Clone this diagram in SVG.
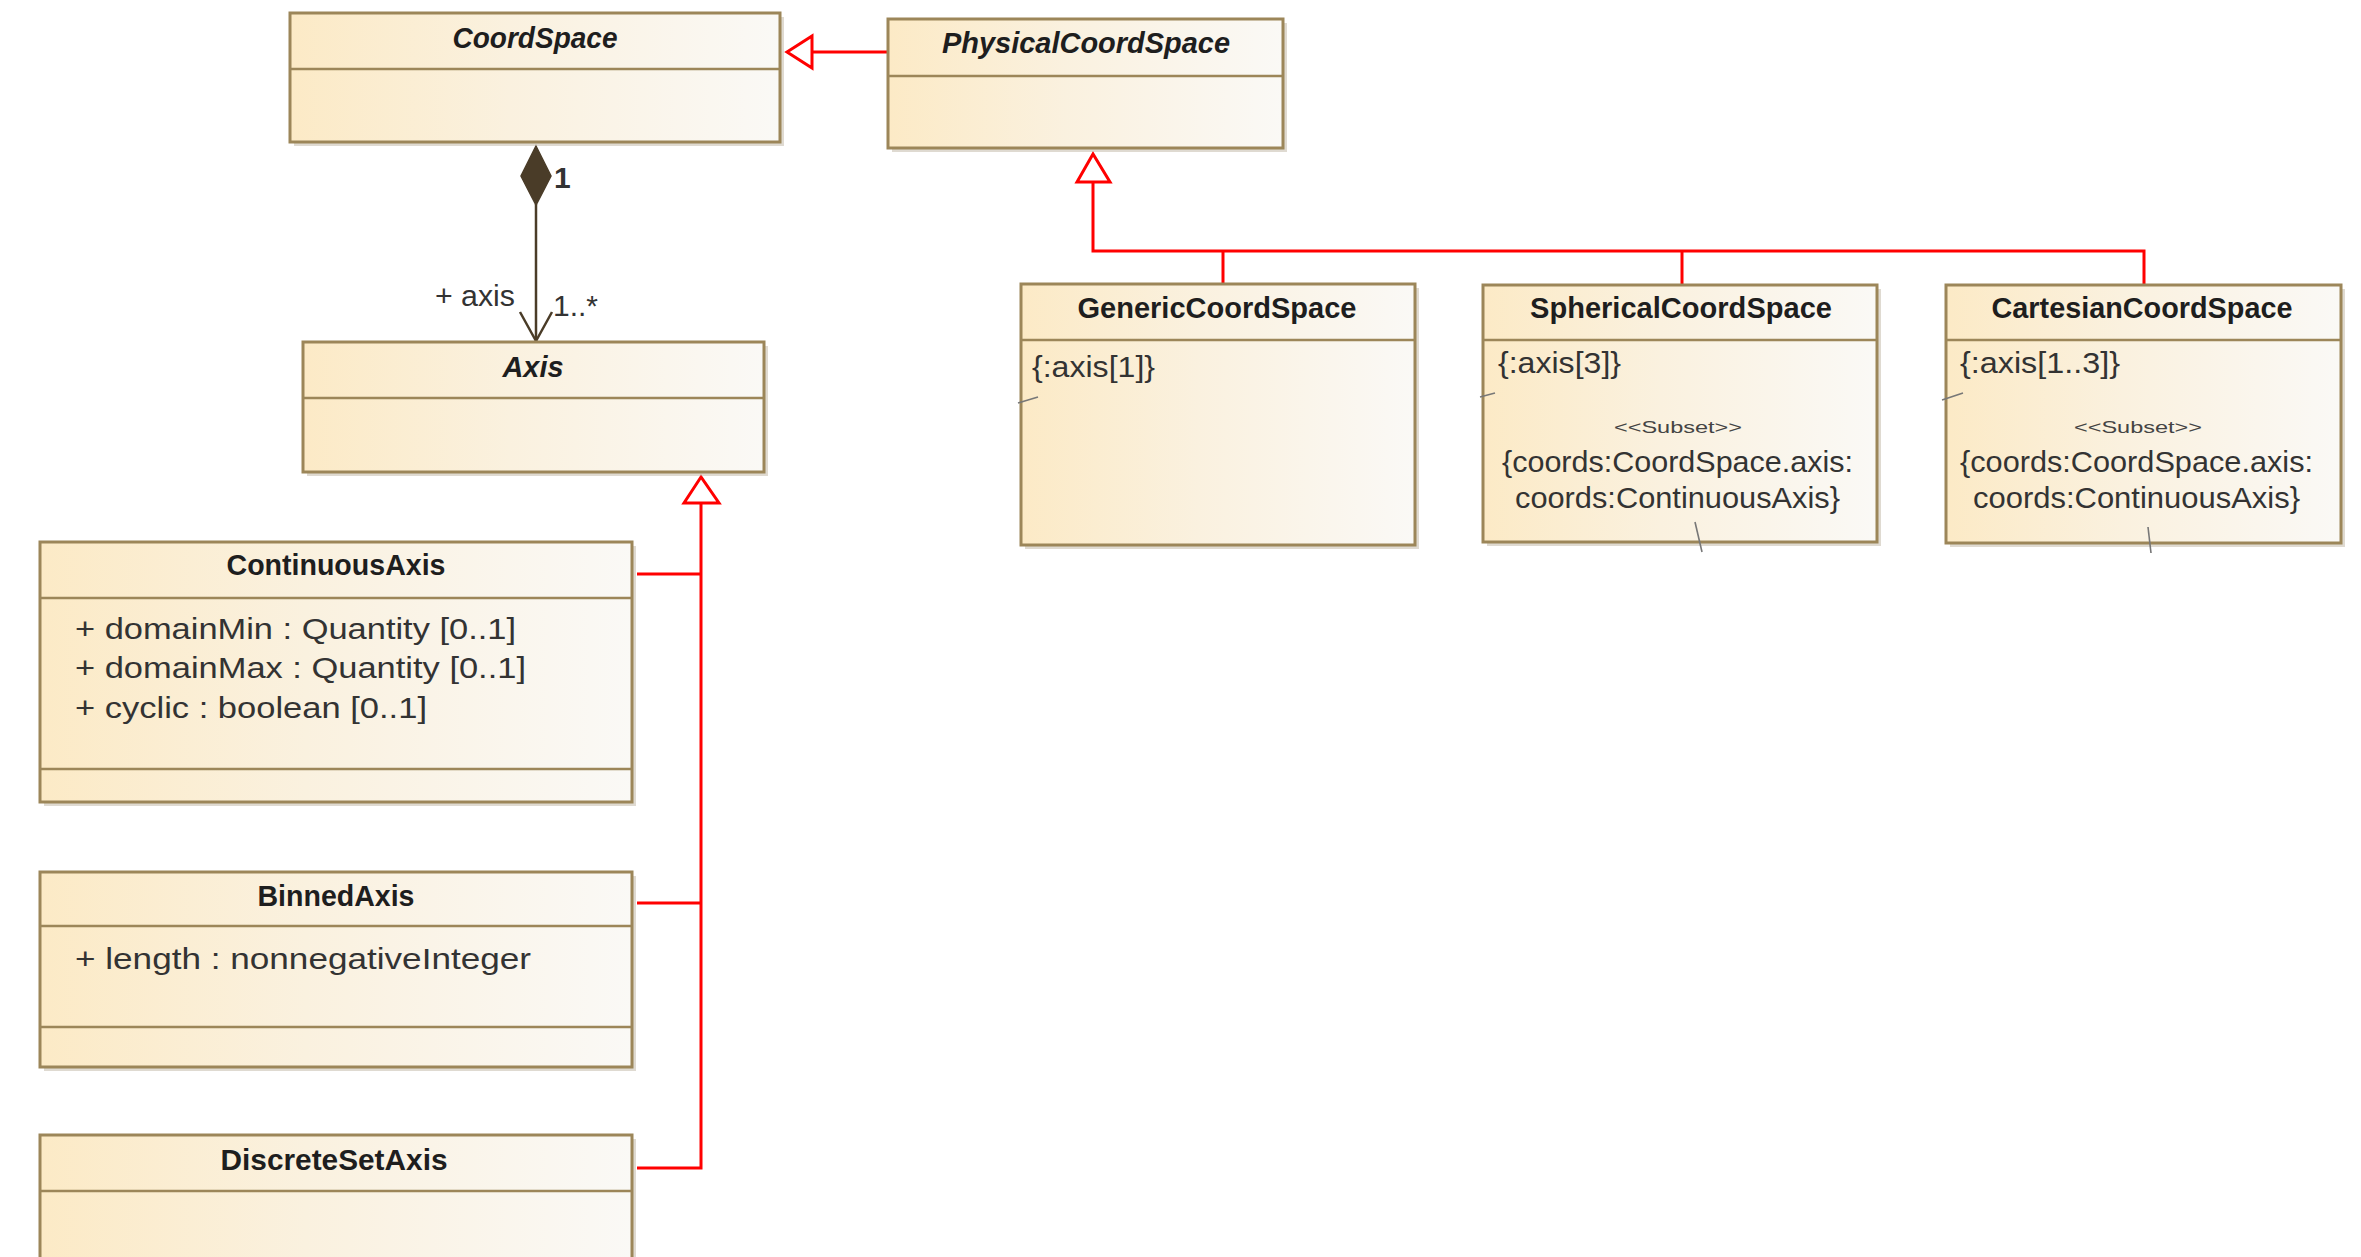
<svg xmlns="http://www.w3.org/2000/svg" width="2361" height="1257" viewBox="0 0 2361 1257">
  <defs>
    <linearGradient id="classFill" x1="0" y1="0" x2="1" y2="0">
      <stop offset="0" stop-color="#FCEAC6"/>
      <stop offset="0.45" stop-color="#FAF1DF"/>
      <stop offset="1" stop-color="#FAF9F6"/>
    </linearGradient>
    <style>
      .shadow { fill: #B8AE98; opacity: 0.45; }
      .box { fill: url(#classFill); stroke: #9C8659; stroke-width: 3; }
      .div { stroke: #9C8659; stroke-width: 2.5; }
      .title { font-family: "Liberation Sans", Arial, sans-serif; font-size: 29px; font-weight: bold; fill: #1E1E1E; text-anchor: middle; }
      .abstract { font-style: italic; }
      .body { font-family: "Liberation Sans", Arial, sans-serif; font-size: 30px; fill: #333333; }
      .small { font-family: "Liberation Sans", Arial, sans-serif; font-size: 17px; fill: #444444; text-anchor: middle; }
      .mid { text-anchor: middle; }
      .gen { fill: none; stroke: #FF0000; stroke-width: 3; }
      .genHead { fill: #FFFFFF; stroke: #FF0000; stroke-width: 3; stroke-linejoin: miter; }
      .assoc { fill: none; stroke: #4A3C28; stroke-width: 2.5; }
      .tick { stroke: #777777; stroke-width: 1.6; fill: none; }
    </style>
  </defs>

  <rect width="2361" height="1257" fill="#FFFFFF"/>

  <!-- connectors -->
  <g id="connectors">
    <!-- PhysicalCoordSpace generalizes CoordSpace -->
    <line class="gen" x1="812" y1="52" x2="888" y2="52"/>
    <polygon class="genHead" points="787,52 812,36 812,68"/>

    <!-- Generic / Spherical / Cartesian generalize PhysicalCoordSpace -->
    <polyline class="gen" points="1093,182 1093,251 2144,251 2144,284"/>
    <line class="gen" x1="1223" y1="251" x2="1223" y2="284"/>
    <line class="gen" x1="1682" y1="251" x2="1682" y2="285"/>
    <polygon class="genHead" points="1093,154 1077,182 1110,182"/>

    <!-- axis subclasses generalize Axis -->
    <polyline class="gen" points="701,503 701,1168 637,1168"/>
    <line class="gen" x1="637" y1="574" x2="701" y2="574"/>
    <line class="gen" x1="637" y1="903" x2="701" y2="903"/>
    <polygon class="genHead" points="701,477 684,503 719,503"/>

    <!-- composition CoordSpace -> Axis -->
    <line class="assoc" x1="536" y1="204" x2="536" y2="341"/>
    <polygon points="536,146 551,176 536,205 521,176" fill="#4A3C28" stroke="#4A3C28" stroke-width="1.5"/>
    <polyline class="assoc" points="520,312 536,341 552,312"/>
    <text class="body" x="554" y="188" font-weight="bold" font-size="27">1</text>
    <text class="body" x="435" y="306" textLength="80" lengthAdjust="spacingAndGlyphs">+ axis</text>
    <text class="body" x="553" y="316" textLength="45" lengthAdjust="spacingAndGlyphs">1..*</text>
  </g>

  <!-- CoordSpace -->
  <g id="CoordSpace">
    <rect class="shadow" x="294" y="17" width="490" height="129"/>
    <rect class="box" x="290" y="13" width="490" height="129"/>
    <line class="div" x1="291" y1="69" x2="779" y2="69"/>
    <text class="title abstract" x="535" y="48" textLength="165" lengthAdjust="spacingAndGlyphs">CoordSpace</text>
  </g>

  <!-- PhysicalCoordSpace -->
  <g id="PhysicalCoordSpace">
    <rect class="shadow" x="892" y="23" width="395" height="129"/>
    <rect class="box" x="888" y="19" width="395" height="129"/>
    <line class="div" x1="889" y1="76" x2="1282" y2="76"/>
    <text class="title abstract" x="1086" y="53" textLength="288" lengthAdjust="spacingAndGlyphs">PhysicalCoordSpace</text>
  </g>

  <!-- Axis -->
  <g id="Axis">
    <rect class="shadow" x="307" y="346" width="461" height="130"/>
    <rect class="box" x="303" y="342" width="461" height="130"/>
    <line class="div" x1="304" y1="398" x2="763" y2="398"/>
    <text class="title abstract" x="533" y="377" textLength="61" lengthAdjust="spacingAndGlyphs">Axis</text>
  </g>

  <!-- GenericCoordSpace -->
  <g id="GenericCoordSpace">
    <rect class="shadow" x="1025" y="288" width="394" height="261"/>
    <rect class="box" x="1021" y="284" width="394" height="261"/>
    <line class="div" x1="1022" y1="340" x2="1414" y2="340"/>
    <text class="title" x="1217" y="318" textLength="279" lengthAdjust="spacingAndGlyphs">GenericCoordSpace</text>
    <text class="body" x="1032" y="377" textLength="123" lengthAdjust="spacingAndGlyphs">{:axis[1]}</text>
    <line class="tick" x1="1018" y1="403" x2="1038" y2="397"/>
  </g>

  <!-- SphericalCoordSpace -->
  <g id="SphericalCoordSpace">
    <rect class="shadow" x="1487" y="289" width="394" height="257"/>
    <rect class="box" x="1483" y="285" width="394" height="257"/>
    <line class="div" x1="1484" y1="340" x2="1876" y2="340"/>
    <text class="title" x="1681" y="318" textLength="302" lengthAdjust="spacingAndGlyphs">SphericalCoordSpace</text>
    <text class="body" x="1498" y="373" textLength="123" lengthAdjust="spacingAndGlyphs">{:axis[3]}</text>
    <text class="small" x="1678" y="433" textLength="128" lengthAdjust="spacingAndGlyphs">&lt;&lt;Subset&gt;&gt;</text>
    <text class="body mid" x="1677.5" y="472" textLength="351" lengthAdjust="spacingAndGlyphs">{coords:CoordSpace.axis:</text>
    <text class="body mid" x="1677.5" y="508" textLength="325" lengthAdjust="spacingAndGlyphs">coords:ContinuousAxis}</text>
    <line class="tick" x1="1480" y1="397" x2="1495" y2="393"/>
    <line class="tick" x1="1695" y1="522" x2="1702" y2="552"/>
  </g>

  <!-- CartesianCoordSpace -->
  <g id="CartesianCoordSpace">
    <rect class="shadow" x="1950" y="289" width="395" height="258"/>
    <rect class="box" x="1946" y="285" width="395" height="258"/>
    <line class="div" x1="1947" y1="340" x2="2340" y2="340"/>
    <text class="title" x="2142" y="318" textLength="301" lengthAdjust="spacingAndGlyphs">CartesianCoordSpace</text>
    <text class="body" x="1960" y="373" textLength="160" lengthAdjust="spacingAndGlyphs">{:axis[1..3]}</text>
    <text class="small" x="2138" y="433" textLength="128" lengthAdjust="spacingAndGlyphs">&lt;&lt;Subset&gt;&gt;</text>
    <text class="body mid" x="2136.5" y="472" textLength="353" lengthAdjust="spacingAndGlyphs">{coords:CoordSpace.axis:</text>
    <text class="body mid" x="2136.5" y="508" textLength="327" lengthAdjust="spacingAndGlyphs">coords:ContinuousAxis}</text>
    <line class="tick" x1="1942" y1="400" x2="1963" y2="393"/>
    <line class="tick" x1="2148" y1="527" x2="2151" y2="553"/>
  </g>

  <!-- ContinuousAxis -->
  <g id="ContinuousAxis">
    <rect class="shadow" x="44" y="546" width="592" height="260"/>
    <rect class="box" x="40" y="542" width="592" height="260"/>
    <line class="div" x1="41" y1="598" x2="631" y2="598"/>
    <line class="div" x1="41" y1="769" x2="631" y2="769"/>
    <text class="title" x="336" y="575" textLength="219" lengthAdjust="spacingAndGlyphs">ContinuousAxis</text>
    <text class="body" x="75" y="639" textLength="441" lengthAdjust="spacingAndGlyphs">+ domainMin : Quantity [0..1]</text>
    <text class="body" x="75" y="678" textLength="451" lengthAdjust="spacingAndGlyphs">+ domainMax : Quantity [0..1]</text>
    <text class="body" x="75" y="718" textLength="352" lengthAdjust="spacingAndGlyphs">+ cyclic : boolean [0..1]</text>
  </g>

  <!-- BinnedAxis -->
  <g id="BinnedAxis">
    <rect class="shadow" x="44" y="876" width="592" height="195"/>
    <rect class="box" x="40" y="872" width="592" height="195"/>
    <line class="div" x1="41" y1="926" x2="631" y2="926"/>
    <line class="div" x1="41" y1="1027" x2="631" y2="1027"/>
    <text class="title" x="336" y="906" textLength="157" lengthAdjust="spacingAndGlyphs">BinnedAxis</text>
    <text class="body" x="75" y="969" textLength="456" lengthAdjust="spacingAndGlyphs">+ length : nonnegativeInteger</text>
  </g>

  <!-- DiscreteSetAxis -->
  <g id="DiscreteSetAxis">
    <rect class="shadow" x="44" y="1139" width="592" height="140"/>
    <rect class="box" x="40" y="1135" width="592" height="140"/>
    <line class="div" x1="41" y1="1191" x2="631" y2="1191"/>
    <text class="title" x="334" y="1170" textLength="227" lengthAdjust="spacingAndGlyphs">DiscreteSetAxis</text>
  </g>
</svg>
